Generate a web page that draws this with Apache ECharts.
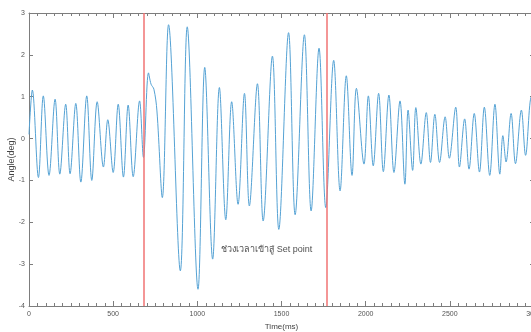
<!DOCTYPE html>
<html>
<head>
<meta charset="utf-8">
<script src="https://cdn.jsdelivr.net/npm/echarts@6/dist/echarts.min.js"></script>
<style>
html,body{margin:0;padding:0;background:#fff;}
#c{width:531px;height:332px;}
</style>
</head>
<body>
<div id="c"></div>
<script>
// Time (ms) of each read peak / trough
const times = [0,20,56,85,119,155,183,218,244,278,308,343,373,405,442,468,500,530,561,589,619,657,680,710,725,742,760,792,829,899,940,1004,1044,1091,1131,1169,1204,1242,1280,1309,1357,1391,1446,1484,1542,1581,1636,1676,1723,1763,1810,1848,1885,1919,1945,1990,2016,2045,2077,2105,2138,2168,2204,2233,2252,2279,2298,2328,2360,2385,2411,2439,2472,2497,2535,2557,2588,2614,2645,2676,2705,2737,2768,2797,2815,2834,2864,2890,2925,2950,2985,3000];
// Angle (deg) at those times
const angles = [0.1,1.16,-0.93,1.02,-0.88,0.94,-0.85,0.82,-0.84,0.84,-1.04,1.02,-1.0,0.88,-0.68,0.45,-0.81,0.82,-0.92,0.80,-0.91,0.90,-0.45,1.57,1.30,1.18,0.66,-1.41,2.72,-3.16,2.67,-3.6,1.70,-2.88,1.22,-1.94,0.88,-1.57,1.08,-1.61,1.31,-1.97,1.97,-2.17,2.53,-1.82,2.48,-1.73,2.16,-1.65,1.87,-1.25,1.50,-0.88,1.20,-0.61,1.02,-0.65,1.08,-0.79,1.04,-0.81,0.90,-1.09,0.68,-0.76,0.74,-0.61,0.62,-0.57,0.58,-0.57,0.52,-0.47,0.75,-0.68,0.47,-0.73,0.60,-0.80,0.75,-0.88,0.82,-0.85,0.07,-0.56,0.60,-0.60,0.68,-0.40,1.0,0.9];
// Red marker lines (ms)
const markTimes = [679, 1768];
// Annotation
const noteText = 'ช่วงเวลาเข้าสู่ Set point';
const notePos = [1412, -2.65];
// Axis ranges
const xRange = [0, 3000, 500];
const yRange = [-4, 3, 1];

const FONT = "'Liberation Sans', 'Noto Sans', 'DejaVu Sans', sans-serif";
const axisColor = '#7d7d7d';
const labelColor = '#555';

const chart = echarts.init(document.getElementById('c'), null, {renderer: 'canvas'});

const xBase = {
  type: 'value', min: xRange[0], max: xRange[1], interval: xRange[2],
  axisLine: {show: true, onZero: false, lineStyle: {color: axisColor, width: 1}},
  axisTick: {show: true, inside: true, length: 5, lineStyle: {color: axisColor}},
  minorTick: {show: true, splitNumber: 10, length: 3, lineStyle: {color: axisColor}},
  splitLine: {show: false}, minorSplitLine: {show: false}
};
const yBase = {
  type: 'value', min: yRange[0], max: yRange[1], interval: yRange[2],
  axisLine: {show: true, onZero: false, lineStyle: {color: axisColor, width: 1}},
  axisTick: {show: true, inside: true, length: 4, lineStyle: {color: axisColor}},
  splitLine: {show: false}
};

chart.setOption({
  animation: false,
  backgroundColor: '#fff',
  textStyle: {fontFamily: FONT},
  grid: {left: 29, top: 13, width: 505, height: 293, containLabel: false, outerBoundsMode: 'none'},
  xAxis: [
    Object.assign({}, xBase, {
      position: 'bottom',
      axisLabel: {show: true, fontSize: 7, color: labelColor, margin: 5, fontFamily: FONT,
                  formatter: v => String(v), hideOverlap: false},
      name: 'Time(ms)', nameLocation: 'middle', nameGap: 16,
      nameTextStyle: {fontSize: 8, color: '#444', fontFamily: FONT}
    }),
    Object.assign({}, xBase, {position: 'top', axisLabel: {show: false}})
  ],
  yAxis: [
    Object.assign({}, yBase, {
      position: 'left',
      axisLabel: {show: true, fontSize: 7, color: labelColor, margin: 4, fontFamily: FONT,
                  formatter: v => String(v)},
      name: 'Angle(deg)', nameLocation: 'middle', nameGap: 13, nameMoveOverlap: false,
      nameTextStyle: {fontSize: 9, color: '#444', fontFamily: FONT}
    }),
    Object.assign({}, yBase, {position: 'right', axisLabel: {show: false}})
  ],
  series: [
    {
      type: 'line',
      xAxisIndex: 0, yAxisIndex: 0,
      data: times.map((t, i) => [t, angles[i]]),
      showSymbol: false,
      smooth: 0.35,
      lineStyle: {color: '#55a2d4', width: 1},
      markLine: {
        silent: true,
        symbol: ['none', 'none'],
        label: {show: false},
        lineStyle: {color: '#f07373', type: 'solid', width: 1.5},
        data: markTimes.map(t => ({xAxis: t}))
      }
    },
    {
      type: 'scatter',
      xAxisIndex: 0, yAxisIndex: 0,
      data: [notePos],
      symbolSize: 0,
      silent: true,
      label: {
        show: true, position: 'inside', formatter: noteText,
        fontSize: 9, color: '#222', fontFamily: FONT
      }
    }
  ]
});
</script>
</body>
</html>
